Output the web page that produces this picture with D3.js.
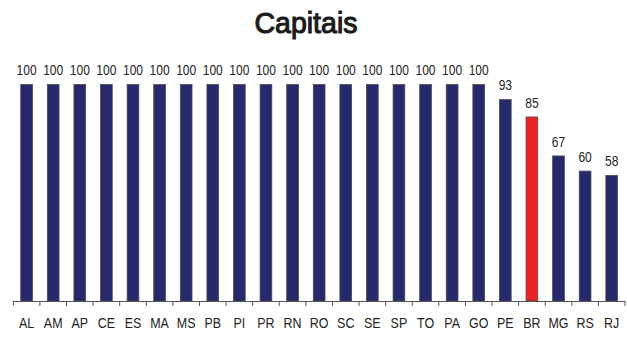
<!DOCTYPE html>
<html>
<head>
<meta charset="utf-8">
<script src="https://cdn.jsdelivr.net/npm/d3@7"></script>
<style>
  html, body { margin: 0; padding: 0; background: #fff; }
  svg { display: block; }
  text { font-family: "Liberation Sans", Arial, sans-serif; }
</style>
</head>
<body>
<svg id="chart" width="627" height="338"></svg>
<script>
const categories = ["AL","AM","AP","CE","ES","MA","MS","PB","PI","PR","RN","RO","SC","SE","SP","TO","PA","GO","PE","BR","MG","RS","RJ"];
const values = [100,100,100,100,100,100,100,100,100,100,100,100,100,100,100,100,100,100,93,85,67,60,58];
const highlight = ["BR"];
const title = "Capitais";

const svg = d3.select("#chart");
const x0 = 13.3, x1 = 625, yBase = 301, yTop = 84.5;
const narrow = 0.86; // horizontal squeeze giving a condensed face

const x = d3.scaleBand().domain(categories).range([x0, x1]).paddingInner(0.56).paddingOuter(0.28);
const y = d3.scaleLinear().domain([0, 100]).range([yBase, yTop]);

svg.append("text")
  .attr("transform", "translate(306,33) scale(0.95,1)")
  .attr("text-anchor", "middle")
  .attr("font-size", 30)
  .attr("fill", "#1a1a1a")
  .attr("stroke", "#1a1a1a")
  .attr("stroke-width", 1.1)
  .text(title);

const data = categories.map((c, i) => ({ c, v: values[i] }));

svg.append("g").selectAll("rect").data(data).join("rect")
  .attr("x", d => x(d.c))
  .attr("y", d => y(d.v))
  .attr("width", x.bandwidth())
  .attr("height", d => yBase - y(d.v))
  .attr("fill", d => highlight.includes(d.c) ? "#ee2025" : "#27296e")
  .attr("stroke", "#4a4a4a")
  .attr("stroke-width", 0.8);

svg.append("g").selectAll("text").data(data).join("text")
  .attr("transform", d => `translate(${x(d.c) + x.bandwidth() / 2},${y(d.v) - 9.3}) scale(${narrow},1)`)
  .attr("text-anchor", "middle")
  .attr("font-size", 14)
  .attr("fill", "#222")
  .text(d => d.v);

// category axis with ticks on band boundaries
const bounds = d3.range(categories.length + 1).map(i => x0 + i * (x1 - x0) / categories.length);
const ax = svg.append("g");
ax.append("line")
  .attr("x1", x0).attr("x2", x1)
  .attr("y1", yBase + 0.5).attr("y2", yBase + 0.5)
  .attr("stroke", "#555").attr("stroke-width", 1);
ax.selectAll("line.tick").data(bounds).join("line")
  .attr("class", "tick")
  .attr("x1", d => d).attr("x2", d => d)
  .attr("y1", yBase).attr("y2", yBase + 5)
  .attr("stroke", "#555").attr("stroke-width", 1);
ax.selectAll("text").data(categories).join("text")
  .attr("transform", d => `translate(${x(d) + x.bandwidth() / 2},327.5) scale(${narrow},1)`)
  .attr("text-anchor", "middle")
  .attr("font-size", 14.5)
  .attr("fill", "#222")
  .text(d => d);
</script>
</body>
</html>
